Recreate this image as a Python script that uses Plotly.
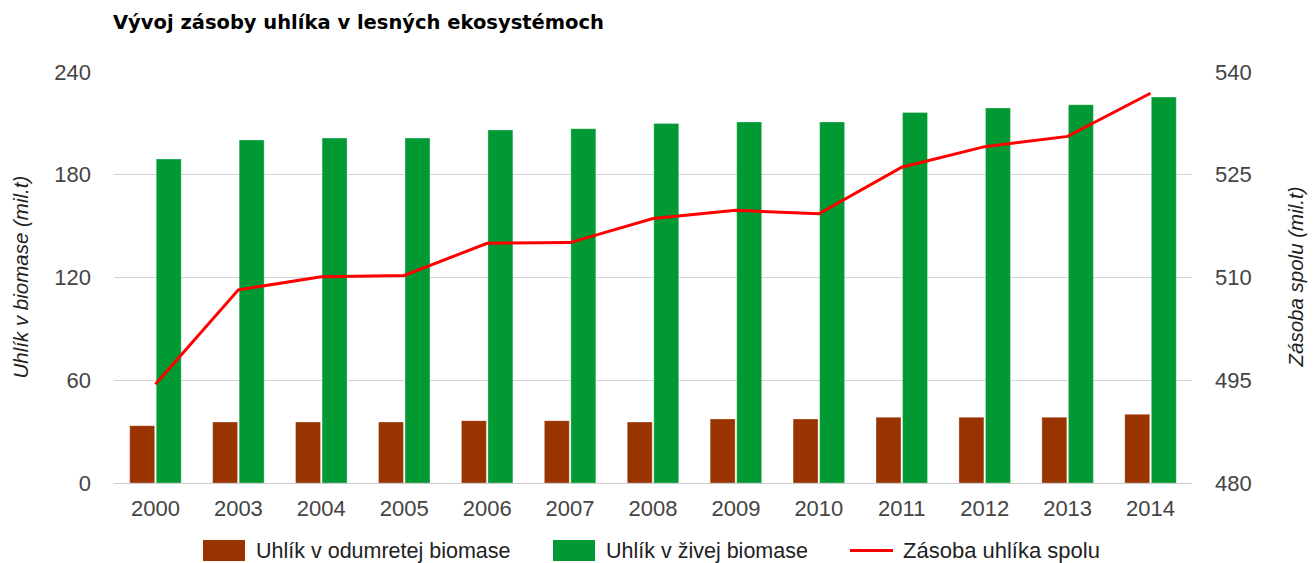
import plotly.graph_objects as go

years = ["2000", "2003", "2004", "2005", "2006", "2007", "2008",
         "2009", "2010", "2011", "2012", "2013", "2014"]
dead_biomass = [33.5, 35.6, 35.6, 35.6, 36.4, 36.4, 35.6, 37.4, 37.4, 38.4, 38.4, 38.4, 40.1]
live_biomass = [189.2, 200.3, 201.4, 201.4, 206.1, 206.9, 209.9, 210.8, 210.8, 216.3, 219.0, 220.9, 225.4]
total_stock = [494.4, 508.2, 510.1, 510.3, 515.0, 515.1, 518.6, 519.8, 519.3, 526.1, 529.1, 530.6, 536.9]

left_ticks = [0, 60, 120, 180, 240]
right_ticks = [480, 495, 510, 525, 540]

name_dead = "Uhlík v odumretej biomase"
name_live = "Uhlík v živej biomase"
name_total = "Zásoba uhlíka spolu"

C_DEAD = "#993300"
C_LIVE = "#009933"
C_LINE = "#ff0000"
FONT = "Liberation Sans, Arial, sans-serif"
TITLE_FONT = "DejaVu Sans, Verdana, sans-serif"
TICK_COLOR = "#444444"

W, H = 1315, 563
L, R, T, B = 114, 123, 72, 80
PW, PH = W - L - R, H - T - B


def px(x):
    return (x - L) / PW


def py(y):
    return (H - B - y) / PH


fig = go.Figure()
fig.add_trace(go.Bar(x=years, y=dead_biomass, name=name_dead, marker_color=C_DEAD,
                     marker_line=dict(color="rgba(255,255,255,0.5)", width=0.6),
                     showlegend=False, yaxis="y"))
fig.add_trace(go.Bar(x=years, y=live_biomass, name=name_live, marker_color=C_LIVE,
                     marker_line=dict(color="rgba(255,255,255,0.5)", width=0.6),
                     showlegend=False, yaxis="y"))
fig.add_trace(go.Scatter(x=years, y=total_stock, name=name_total, mode="lines",
                         line=dict(color=C_LINE, width=3), showlegend=False, yaxis="y2"))

shapes = [
    dict(type="rect", xref="paper", yref="paper", x0=px(203), x1=px(245), y0=py(561), y1=py(540),
         fillcolor=C_DEAD, line=dict(width=0)),
    dict(type="rect", xref="paper", yref="paper", x0=px(553), x1=px(595), y0=py(561), y1=py(540),
         fillcolor=C_LIVE, line=dict(width=0)),
    dict(type="line", xref="paper", yref="paper", x0=px(850), x1=px(893), y0=py(550.5), y1=py(550.5),
         line=dict(color=C_LINE, width=3)),
]

LEG_FONT = dict(family=FONT, size=21.5, color="#222222")
annotations = [
    dict(text=name_dead, x=px(254), y=py(550.5), xref="paper", yref="paper", xanchor="left",
         yanchor="middle", showarrow=False, font=LEG_FONT),
    dict(text=name_live, x=px(604), y=py(550.5), xref="paper", yref="paper", xanchor="left",
         yanchor="middle", showarrow=False, font=LEG_FONT),
    dict(text=name_total, x=px(901), y=py(550.5), xref="paper", yref="paper", xanchor="left",
         yanchor="middle", showarrow=False, font=dict(family=FONT, size=22, color="#222222")),
    dict(text="<i>Uhlík v biomase (mil.t)</i>", x=px(20), y=0.5, xref="paper", yref="paper",
         xanchor="center", yanchor="middle", textangle=-90, showarrow=False,
         font=dict(family=FONT, size=20.5, color="#222222")),
    dict(text="<i>Zásoba spolu (mil.t)</i>", x=px(1295), y=0.5, xref="paper", yref="paper",
         xanchor="center", yanchor="middle", textangle=-90, showarrow=False,
         font=dict(family=FONT, size=20.5, color="#222222")),
]

fig.update_layout(
    width=W, height=H,
    margin=dict(l=L, r=R, t=T, b=B, autoexpand=False),
    paper_bgcolor="white", plot_bgcolor="white",
    barmode="group", bargap=0.36, bargroupgap=0.06,
    showlegend=False,
    title=dict(text="<b>Vývoj zásoby uhlíka v lesných ekosystémoch</b>",
               x=113 / W, xref="container", xanchor="left",
               y=1 - 22 / H, yref="container", yanchor="middle",
               font=dict(family=TITLE_FONT, size=19.5, color="#000000")),
    font=dict(family=FONT, size=22, color=TICK_COLOR),
    xaxis=dict(type="category", showgrid=False, showline=False, zeroline=False,
               ticks="", ticklabelstandoff=10,
               tickfont=dict(family=FONT, size=22, color=TICK_COLOR)),
    yaxis=dict(range=[0, 240], tickvals=left_ticks, showgrid=True, gridcolor="#d4d4d4",
               gridwidth=1, zeroline=True, zerolinecolor="#cccccc", zerolinewidth=1,
               showline=False, ticks="", ticklabelstandoff=22,
               tickfont=dict(family=FONT, size=22, color=TICK_COLOR)),
    yaxis2=dict(range=[480, 540], tickvals=right_ticks, overlaying="y", side="right",
                showgrid=False, zeroline=False, showline=False, ticks="", ticklabelstandoff=22,
                tickfont=dict(family=FONT, size=22, color=TICK_COLOR)),
    shapes=shapes,
    annotations=annotations,
)

fig.write_html("out.html", config={"displayModeBar": False},
               post_script="document.body.style.margin='0';document.body.style.overflow='hidden';")
